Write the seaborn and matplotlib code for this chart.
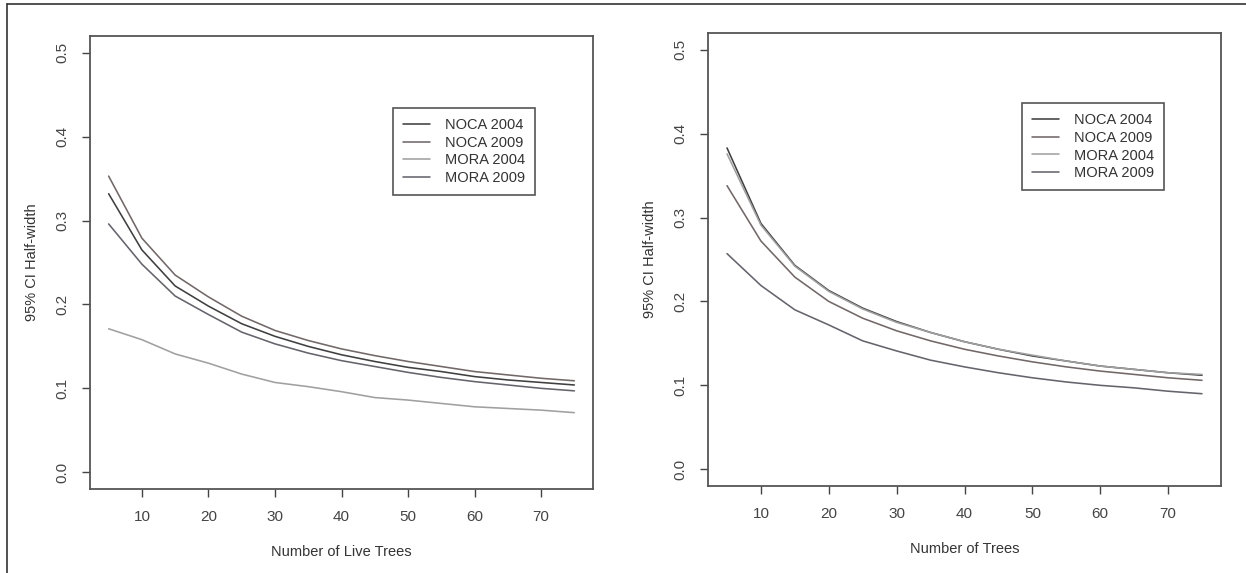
import matplotlib
matplotlib.use("Agg")
import matplotlib.pyplot as plt
from matplotlib.lines import Line2D
import seaborn as sns
import pandas as pd

# data (n = 5..75)
n_trees = [5, 10, 15, 20, 25, 30, 35, 40, 45, 50, 55, 60, 65, 70, 75]
series_names = ["NOCA 2004", "NOCA 2009", "MORA 2004", "MORA 2009"]

# left panel: Number of Live Trees
live_noca_2004 = [0.332, 0.265, 0.222, 0.198, 0.177, 0.162, 0.150, 0.140, 0.132, 0.125, 0.120, 0.114, 0.110, 0.107, 0.104]
live_noca_2009 = [0.353, 0.279, 0.235, 0.209, 0.186, 0.169, 0.157, 0.147, 0.139, 0.132, 0.126, 0.120, 0.116, 0.112, 0.109]
live_mora_2004 = [0.171, 0.158, 0.141, 0.130, 0.117, 0.107, 0.102, 0.096, 0.089, 0.086, 0.082, 0.078, 0.076, 0.074, 0.071]
live_mora_2009 = [0.296, 0.248, 0.210, 0.188, 0.167, 0.153, 0.142, 0.133, 0.126, 0.119, 0.113, 0.108, 0.104, 0.100, 0.097]

# right panel: Number of Trees
all_noca_2004 = [0.383, 0.293, 0.243, 0.213, 0.192, 0.176, 0.163, 0.152, 0.143, 0.135, 0.129, 0.123, 0.119, 0.115, 0.112]
all_noca_2009 = [0.338, 0.272, 0.229, 0.200, 0.180, 0.165, 0.153, 0.143, 0.135, 0.128, 0.122, 0.117, 0.113, 0.109, 0.106]
all_mora_2004 = [0.376, 0.291, 0.242, 0.212, 0.191, 0.175, 0.163, 0.152, 0.143, 0.136, 0.129, 0.123, 0.119, 0.115, 0.113]
all_mora_2009 = [0.257, 0.219, 0.190, 0.172, 0.153, 0.141, 0.130, 0.122, 0.115, 0.109, 0.104, 0.100, 0.097, 0.093, 0.090]

line_colors = ["#404040", "#726868", "#a0a0a0", "#64646c"]

sns.set_style("white")
plt.rcParams['font.family'] = ['Liberation Sans', 'DejaVu Sans']
plt.rcParams['text.color'] = '#333333'
plt.rcParams['axes.labelcolor'] = '#333333'
plt.rcParams['xtick.color'] = '#444444'
plt.rcParams['ytick.color'] = '#444444'


def make_df(cols):
    rows = []
    for name, vals in zip(series_names, cols):
        for x, y in zip(n_trees, vals):
            rows.append({"n": x, "hw": y, "series": name})
    return pd.DataFrame(rows)


fig = plt.figure(figsize=(12.46, 5.73), dpi=100)

panels = [
    ([90 / 1246, 1 - 489 / 573, 503 / 1246, 453 / 573],
     [live_noca_2004, live_noca_2009, live_mora_2004, live_mora_2009],
     "Number of Live Trees", (393 / 1246, 1 - 108 / 573)),
    ([708 / 1246, 1 - 486 / 573, 513 / 1246, 453 / 573],
     [all_noca_2004, all_noca_2009, all_mora_2004, all_mora_2009],
     "Number of Trees", (1022 / 1246, 1 - 103 / 573)),
]

for rect, cols, xlab, leg_pos in panels:
    ax = fig.add_axes(rect)
    df = make_df(cols)
    sns.lineplot(data=df, x="n", y="hw", hue="series", hue_order=series_names,
                 palette=line_colors, linewidth=1.15, legend=False, ax=ax)
    ax.set_xlim(2.2, 77.8)
    ax.set_ylim(-0.02, 0.52)
    ax.set_xticks([10, 20, 30, 40, 50, 60, 70])
    ax.set_yticks([0.0, 0.1, 0.2, 0.3, 0.4, 0.5])
    ax.set_yticklabels(["0.0", "0.1", "0.2", "0.3", "0.4", "0.5"])
    ax.tick_params(axis='both', direction='out', length=6, width=1, labelsize=11,
                   left=True, bottom=True)
    ax.tick_params(axis='y', pad=9)
    ax.tick_params(axis='x', pad=9)
    for lab in ax.get_yticklabels():
        lab.set_rotation(90)
        lab.set_va('center')
    for sp in ax.spines.values():
        sp.set_color('#555555')
        sp.set_linewidth(1.3)
    ax.set_xlabel(xlab, fontsize=10.5)
    ax.set_ylabel("95% CI Half-width", fontsize=10.5)
    ax.xaxis.set_label_coords(0.5, -0.14)
    ax.xaxis.label.set_va('center')
    ax.yaxis.set_label_coords(-58 / rect[2] / 1246, 0.5)
    ax.yaxis.label.set_va('center')
    leg = ax.legend(ax.get_lines(), series_names, loc='upper left',
                    bbox_to_anchor=leg_pos, bbox_transform=fig.transFigure,
                    borderaxespad=0, fancybox=False, framealpha=1,
                    edgecolor='#555555', fontsize=10.5, handlelength=1.85,
                    handletextpad=1.0, labelspacing=0.25, borderpad=0.7)
    leg.get_frame().set_linewidth(1.2)

# outer frame edges visible in the scan
fig.add_artist(Line2D([7 / 1246, 7 / 1246], [0, 1 - 4 / 573], color='#333333', lw=1.2))
fig.add_artist(Line2D([7 / 1246, 1], [1 - 4 / 573, 1 - 4 / 573], color='#333333', lw=1.2))

fig.savefig("out.png", dpi=100)
